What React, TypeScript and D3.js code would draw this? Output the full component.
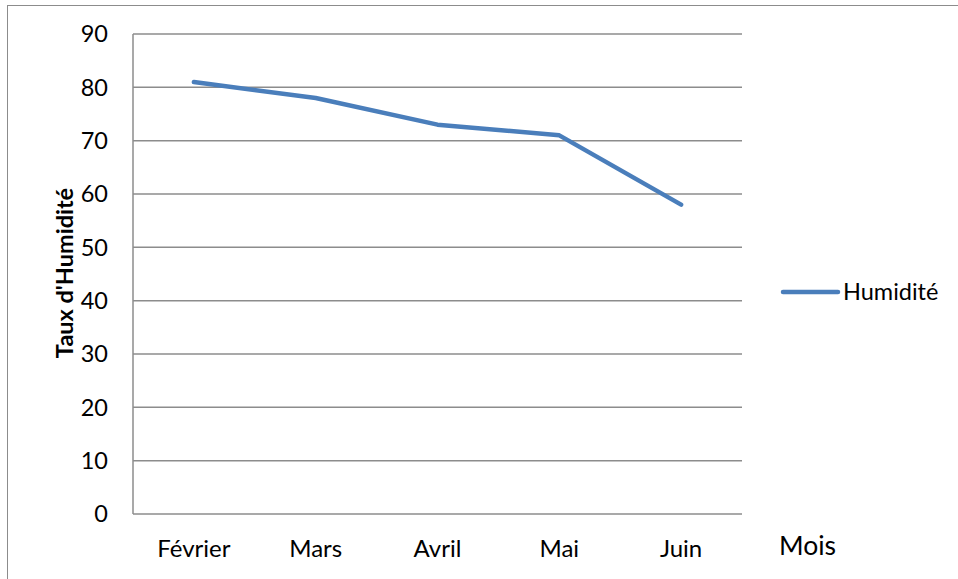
import React, { useRef, useEffect } from 'react';
import * as d3 from 'd3';

const MONTHS = ['Février', 'Mars', 'Avril', 'Mai', 'Juin'];
const HUMIDITE = [81, 78, 73, 71, 58];
const Y_TICKS = [0, 10, 20, 30, 40, 50, 60, 70, 80, 90];

const FONT = 'Lato, "Open Sans", sans-serif';

export default function App() {
  const svgRef = useRef<SVGSVGElement>(null);

  useEffect(() => {
    const svg = d3.select(svgRef.current);
    svg.selectAll('*').remove();

    const width = 958;
    const height = 579;
    // zone du graphique
    const plot = { left: 133, right: 742, top: 34, bottom: 514 };

    // cadre extérieur
    svg.append('rect')
      .attr('x', 7.5).attr('y', 5.5)
      .attr('width', width + 10).attr('height', height + 10)
      .attr('fill', 'white')
      .attr('stroke', '#8c8c8c').attr('stroke-width', 1);

    const x = d3.scaleBand<string>()
      .domain(MONTHS)
      .range([plot.left, plot.right]);

    const y = d3.scaleLinear()
      .domain([0, 90])
      .range([plot.bottom, plot.top]);

    // grille horizontale
    svg.append('g')
      .selectAll('line')
      .data(Y_TICKS)
      .join('line')
      .attr('x1', plot.left).attr('x2', plot.right)
      .attr('y1', d => y(d)).attr('y2', d => y(d))
      .attr('stroke', '#8c8c8c').attr('stroke-width', 1.5);

    // axe vertical
    svg.append('line')
      .attr('x1', plot.left).attr('x2', plot.left)
      .attr('y1', plot.top).attr('y2', plot.bottom)
      .attr('stroke', '#8c8c8c').attr('stroke-width', 1.5);

    // labels de l'axe Y
    svg.append('g')
      .selectAll('text')
      .data(Y_TICKS)
      .join('text')
      .attr('x', 108)
      .attr('y', d => y(d))
      .attr('dy', '0.36em')
      .attr('text-anchor', 'end')
      .attr('font-family', FONT)
      .attr('font-size', 23.5)
      .attr('fill', '#000')
      .text(d => d);

    // labels de l'axe X
    svg.append('g')
      .selectAll('text')
      .data(MONTHS)
      .join('text')
      .attr('x', d => (x(d) ?? 0) + x.bandwidth() / 2)
      .attr('y', 557)
      .attr('text-anchor', 'middle')
      .attr('font-family', FONT)
      .attr('font-size', 24)
      .attr('fill', '#000')
      .text(d => d);

    // titre axe X
    svg.append('text')
      .attr('x', 779).attr('y', 555)
      .attr('font-family', FONT)
      .attr('font-size', 26.5)
      .attr('fill', '#000')
      .text('Mois');

    // titre axe Y
    svg.append('text')
      .attr('transform', `translate(73, 273) rotate(-90)`)
      .attr('text-anchor', 'middle')
      .attr('font-family', FONT)
      .attr('font-size', 23.5)
      .attr('font-weight', 'bold')
      .attr('fill', '#000')
      .text("Taux d'Humidité");

    // courbe
    const line = d3.line<number>()
      .x((_, i) => (x(MONTHS[i]) ?? 0) + x.bandwidth() / 2)
      .y(d => y(d));

    svg.append('path')
      .attr('d', line(HUMIDITE) || '')
      .attr('fill', 'none')
      .attr('stroke', '#4a7ebb')
      .attr('stroke-width', 4.5)
      .attr('stroke-linecap', 'round')
      .attr('stroke-linejoin', 'round');

    // légende
    svg.append('line')
      .attr('x1', 783).attr('x2', 838)
      .attr('y1', 292).attr('y2', 292)
      .attr('stroke', '#4a7ebb')
      .attr('stroke-width', 4.5)
      .attr('stroke-linecap', 'round');

    svg.append('text')
      .attr('x', 843).attr('y', 292)
      .attr('dy', '0.36em')
      .attr('font-family', FONT)
      .attr('font-size', 23.5)
      .attr('fill', '#000')
      .text('Humidité');
  }, []);

  return (
    <svg
      ref={svgRef}
      width={958}
      height={579}
      style={{ position: 'absolute', left: 0, top: 0 }}
    />
  );
}
